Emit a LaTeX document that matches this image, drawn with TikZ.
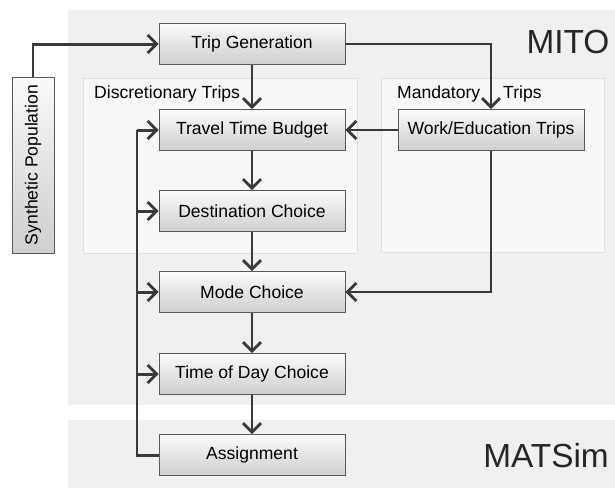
\documentclass[tikz,border=0pt]{standalone}
\usepackage{fontspec}
\setmainfont{Liberation Sans}
\usetikzlibrary{arrows.meta}
\definecolor{linegray}{HTML}{3A3A3A}
\tikzset{
	stepbox/.style={draw=gray!70!black,top color=gray!4,bottom color=gray!38,minimum width=3.72cm,minimum height=0.82cm,inner sep=1pt},
	panel/.style={fill=gray!12},
	subpanel/.style={draw=gray!25,fill=gray!6},
	flow/.style={draw=linegray,line width=1.7pt,-{Straight Barb[length=1.8mm,width=3.6mm,line width=1.6pt]}},
	thinflow/.style={flow,line width=1.1pt},
	bigtitle/.style={font=\fontsize{19}{22}\selectfont,text=black!85}
}
\begin{document}
\begin{tikzpicture}[x=0.02cm,y=-0.02cm,line join=miter]
	\useasboundingbox (0,0) rectangle (615,488);
	% panels
	\fill[panel] (68,10) rectangle (615,405);
	\fill[panel] (68,420) rectangle (615,488);
	\path[subpanel] (83,78) rectangle (357,253);
	\path[subpanel] (381,78) rectangle (604,252);
	\node[bigtitle] (mito) at (568,42) {MITO};
	\node[bigtitle] (matsim) at (546,456) {MATSim};
	\node[anchor=west] (disc) at (88,94) {Discretionary Trips};
	\node[anchor=west] (mand) at (391,94) {Mandatory};
	\node[anchor=west] (mandt) at (497,94) {Trips};
	% boxes
	\node[stepbox] (tg) at (252,44) {Trip Generation};
	\node[stepbox] (ttb) at (252,130) {Travel Time Budget};
	\node[stepbox] (dc) at (252,211) {Destination Choice};
	\node[stepbox] (mc) at (252,292) {Mode Choice};
	\node[stepbox] (tod) at (252,374) {Time of Day Choice};
	\node[stepbox] (asg) at (252,455) {Assignment};
	\node[stepbox] (work) at (491,130) {Work/Education Trips};
	\node[stepbox,rotate=90,minimum width=3.52cm,minimum height=0.84cm] (syn) at (33,165) {Synthetic Population};
	\coordinate (bus) at (137,130);
	% arrows
	\draw[flow] (syn.east) |- (tg.west);
	\draw[thinflow] (tg.east) -| (work.north);
	\draw[thinflow] (work.west) -- (ttb.east);
	\draw[thinflow] (work.south) |- (mc.east);
	\foreach \a/\b in {tg/ttb,ttb/dc,dc/mc,mc/tod,tod/asg}
		{\draw[flow] (\a.south) -- (\b.north);}
	\draw[draw=linegray,line width=1.7pt] (asg.west) -| (bus);
	\foreach \b in {ttb,dc,mc,tod}
		{\draw[flow] (bus |- \b.west) -- (\b.west);}
\end{tikzpicture}
\end{document}
